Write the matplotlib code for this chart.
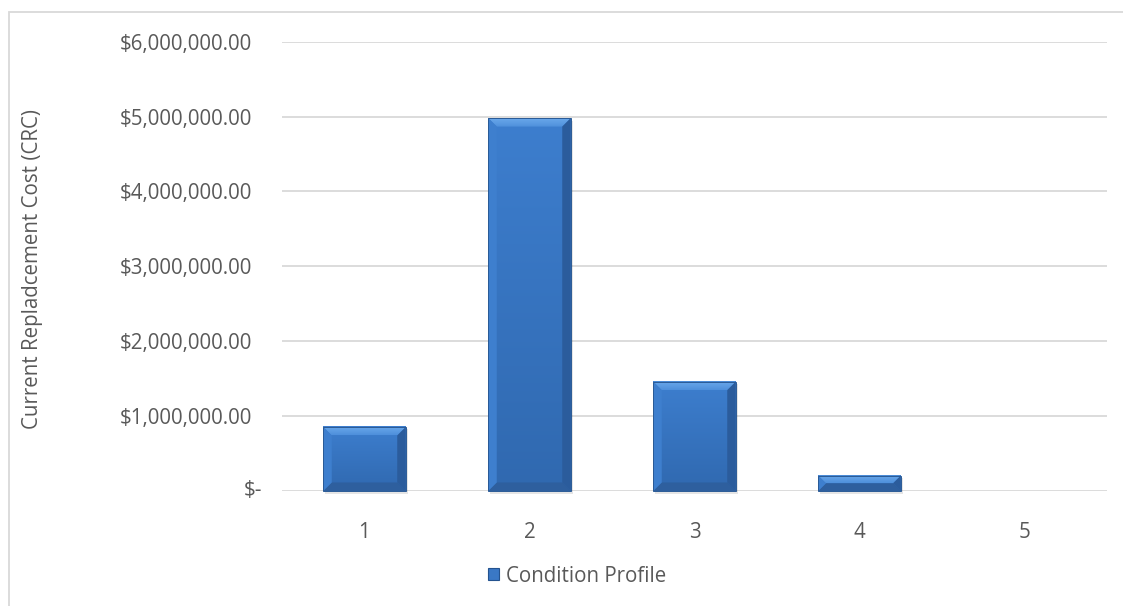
import numpy as np
import matplotlib
matplotlib.use("Agg")
import matplotlib.pyplot as plt
from matplotlib.patches import Polygon, Rectangle, Patch
from matplotlib.colors import LinearSegmentedColormap
from matplotlib.ticker import FuncFormatter, MultipleLocator

# Condition profile data
categories = ["1", "2", "3", "4", "5"]
crc_values = [855000, 4980000, 1460000, 205000, 0]
series_name = "Condition Profile"
y_label = "Current Repladcement Cost (CRC)"

W, H, DPI = 1123, 606, 100
TEXT = "#595959"
GRID = "#d9d9d9"
FS = 14.8

plt.rcParams["font.family"] = ["Open Sans", "DejaVu Sans"]

fig = plt.figure(figsize=(W / DPI, H / DPI), dpi=DPI)
fig.patch.set_facecolor("white")

ax = fig.add_axes([282 / W, (H - 491) / H, (1107 - 282) / W, (491 - 41.7) / H])
x = np.arange(len(categories))
bars = ax.bar(x, crc_values, width=0.5, color="#3a78c5", zorder=2, linewidth=0)

ax.set_xlim(-0.5, len(categories) - 0.5)
ax.set_ylim(0, 6_000_000)
ax.yaxis.set_major_locator(MultipleLocator(1_000_000))


def money(v, _pos):
    # zero is written separately in accounting style
    if v == 0:
        return ""
    return f"${v:,.2f}"


ax.yaxis.set_major_formatter(FuncFormatter(money))
ax.annotate("$-", xy=(0, 0), xycoords=("axes fraction", "data"),
            xytext=(-20, 0), textcoords="offset pixels", ha="right", va="center",
            color=TEXT, fontsize=FS)
ax.set_xticks(x)
ax.set_xticklabels(categories)
ax.tick_params(axis="both", length=0, colors=TEXT, labelsize=FS)
ax.tick_params(axis="y", pad=21.6)
ax.tick_params(axis="x", pad=22)
ax.grid(axis="y", color=GRID, linewidth=1.3, zorder=0)
for s in ax.spines.values():
    s.set_visible(False)

fig.text(33 / W, 1 - 269 / H, y_label, rotation=90, ha="center", va="center",
         color=TEXT, fontsize=FS)

# Legend
leg_handle = Patch(facecolor="#3a78c5", edgecolor="#24538f", linewidth=0.8)
leg = fig.legend([leg_handle], [series_name], loc="center",
                 bbox_to_anchor=(577 / W, 1 - 576 / H), frameon=False,
                 handlelength=0.55, handleheight=0.55, handletextpad=0.3,
                 fontsize=FS, labelcolor=TEXT)

# Outer chart border
fig.patches.append(Rectangle((8.5 / W, -0.1), 1.2, 1.1 - 12.5 / H,
                             transform=fig.transFigure, fill=False,
                             edgecolor=GRID, linewidth=1.3))

# Bevel shading drawn in pixel space over each bar
fig.canvas.draw()
ov = fig.add_axes([0, 0, 1, 1], zorder=5)
ov.set_xlim(0, W)
ov.set_ylim(0, H)
ov.axis("off")
ov.patch.set_alpha(0)

face_grad = np.linspace(0, 1, 64).reshape(-1, 1)
face_cmap = LinearSegmentedColormap.from_list("face", ["#3069b0", "#3d7ece"])
top_cmap = LinearSegmentedColormap.from_list("top", ["#4f90dc", "#6aa8ea"])

for b in bars:
    bb = b.get_window_extent()
    x0, x1, y0, y1 = bb.x0, bb.x1, bb.y0, bb.y1
    h, w = y1 - y0, x1 - x0
    if h < 1:
        continue
    bv = min(8.5, h / 2, w / 2)
    # soft shadow
    ov.add_patch(Rectangle((x0 + 2, y0 - 2.5), w, h, color="#000000", alpha=0.10,
                           linewidth=0, zorder=1))
    ov.imshow(face_grad, extent=(x0, x1, y0, y1), origin="lower", cmap=face_cmap,
              aspect="auto", zorder=2, interpolation="bilinear")
    top = Polygon([(x0, y1), (x1, y1), (x1 - bv, y1 - bv), (x0 + bv, y1 - bv)],
                  closed=True, facecolor="none", linewidth=0, zorder=3)
    ov.add_patch(top)
    im = ov.imshow(np.linspace(0, 1, 16).reshape(-1, 1), extent=(x0, x1, y1 - bv, y1),
                   origin="lower", cmap=top_cmap, aspect="auto", zorder=3,
                   interpolation="bilinear")
    im.set_clip_path(top)
    ov.add_patch(Polygon([(x0, y0), (x1, y0), (x1 - bv, y0 + bv), (x0 + bv, y0 + bv)],
                         closed=True, color="#2e5f9e", linewidth=0, zorder=3))
    ov.add_patch(Polygon([(x0, y0), (x0, y1), (x0 + bv, y1 - bv), (x0 + bv, y0 + bv)],
                         closed=True, color="#3e7fce", linewidth=0, zorder=3))
    ov.add_patch(Polygon([(x1, y0), (x1, y1), (x1 - bv, y1 - bv), (x1 - bv, y0 + bv)],
                         closed=True, color="#2b5c9c", linewidth=0, zorder=3))
    ov.add_patch(Rectangle((x0, y0), w, h, fill=False, edgecolor="#2a5a96",
                           linewidth=0.7, zorder=4))

ov.set_xlim(0, W)
ov.set_ylim(0, H)

fig.savefig("out.png", dpi=DPI)
